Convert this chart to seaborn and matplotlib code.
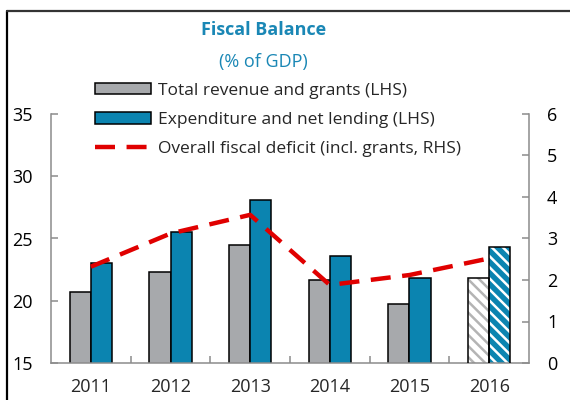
import matplotlib
matplotlib.use("Agg")
import matplotlib.pyplot as plt
import pandas as pd
import seaborn as sns
from matplotlib.lines import Line2D
from matplotlib.patches import Patch, Rectangle

# chart data (% of GDP)
years = ["2011", "2012", "2013", "2014", "2015", "2016"]
revenue = [20.7, 22.3, 24.5, 21.7, 19.7, 21.85]
expenditure = [23.0, 25.5, 28.1, 23.6, 21.85, 24.35]
deficit = [2.32, 3.12, 3.57, 1.88, 2.12, 2.52]
series_names = ["Total revenue and grants (LHS)", "Expenditure and net lending (LHS)"]
line_name = "Overall fiscal deficit (incl. grants, RHS)"

grey = "#A7A9AC"
blue = "#0B84B0"
red = "#E00000"
title_col = "#1A87B5"
spine_col = "#8C8C8C"

sns.set_theme(style="white")
plt.rcParams['font.family'] = ['Open Sans', 'DejaVu Sans']
plt.rcParams['hatch.linewidth'] = 1.8

df = pd.DataFrame({
    "Year": years * 2,
    "value": revenue + expenditure,
    "Series": [series_names[0]] * len(years) + [series_names[1]] * len(years),
})
df_line = pd.DataFrame({"Year": years, "value": deficit})

fig = plt.figure(figsize=(5.7, 4.0), dpi=100)
ax = fig.add_axes([0.0895, 0.0925, 0.8385, 0.6225])

sns.barplot(data=df, x="Year", y="value", hue="Series", order=years,
            palette=[grey, blue], width=0.53, edgecolor="black", linewidth=1.1,
            legend=False, ax=ax, saturation=1)

# projected year: hatched bars
for cont, hatch_col, face in [(ax.containers[0], "#B4B4B4", "white"),
                              (ax.containers[1], "white", blue)]:
    bar = cont[-1]
    bar.set_facecolor(face)
    bar.set_edgecolor(hatch_col)
    bar.set_hatch("\\\\\\")
    bar.set_linewidth(0)
    ax.add_patch(Rectangle(bar.get_xy(), bar.get_width(), bar.get_height(),
                           fill=False, edgecolor="black", linewidth=1.1, zorder=3))

ax.set_ylim(15, 35)
ax.set_yticks([15, 20, 25, 30, 35])
ax.set_xlim(-0.5, len(years) - 0.5)

ax2 = ax.twinx()
sns.lineplot(data=df_line, x=range(len(years)), y="value", color=red,
             linewidth=3.2, dashes=False, ax=ax2)
ax2.lines[0].set_dashes([4.5, 2.6])
ax2.set_ylim(0, 6)
ax2.set_yticks(range(7))

for a in (ax, ax2):
    a.set_xlabel("")
    a.set_ylabel("")
    for s in a.spines.values():
        s.set_color(spine_col)
        s.set_linewidth(1.1)
    a.spines["top"].set_visible(False)
    a.tick_params(axis="y", direction="in", length=5, width=1.1, color=spine_col,
                  labelsize=13, labelcolor="black", pad=13)

ax.spines["right"].set_visible(False)
ax2.spines["left"].set_visible(False)
ax2.spines["bottom"].set_visible(False)

ax.set_xticks(range(len(years)))
ax.set_xticklabels(years)
ax.set_xticks([i + 0.5 for i in range(len(years) - 1)], minor=True)
ax.tick_params(axis="x", which="major", length=0, labelsize=13, pad=11)
ax.tick_params(axis="x", which="minor", direction="in", length=5, width=1.1,
               color=spine_col, bottom=True)

# legend
handles = [Patch(facecolor=grey, edgecolor="black", linewidth=1.1),
           Patch(facecolor=blue, edgecolor="black", linewidth=1.1),
           Line2D([0], [0], color=red, linewidth=3.2, dashes=[4.5, 2.6])]
fig.legend(handles, series_names + [line_name], loc="upper left",
           bbox_to_anchor=(0.167, 0.793), frameon=False, fontsize=12.5,
           handlelength=3.2, handleheight=0.65, handletextpad=0.4,
           labelspacing=0.75, borderpad=0, borderaxespad=0)

fig.text(0.462, 0.925, "Fiscal Balance", ha="center", va="center",
         fontsize=13, fontweight="bold", color=title_col)
fig.text(0.462, 0.845, "(% of GDP)", ha="center", va="center",
         fontsize=13, color=title_col)

# frame around the figure
fig.add_artist(Line2D([7 / 570, 7 / 570], [0, 1 - 11 / 400], color="black", linewidth=1.6))
fig.add_artist(Line2D([7 / 570, 1], [1 - 11 / 400, 1 - 11 / 400], color="#333333", linewidth=1.6))

fig.savefig("out.png", dpi=100)
